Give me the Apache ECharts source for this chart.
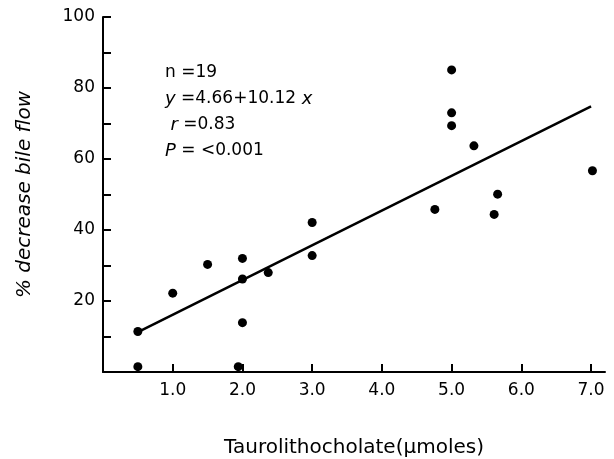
<!DOCTYPE html>
<html>
<head>
<meta charset="utf-8">
<script src="https://cdn.jsdelivr.net/npm/echarts@6/dist/echarts.min.js"></script>
<style>
  html, body { margin: 0; padding: 0; background: #fff; }
  #chart { width: 614px; height: 459px; }
</style>
</head>
<body>
<div id="chart"></div>
<script>
// taurolithocholate dose (umoles) vs % decrease in bile flow
const doseX = [0.5, 0.5, 1.0, 1.5, 1.94, 2.0, 2.0, 2.0, 2.37, 3.0, 3.0, 4.76, 5.0, 5.0, 5.0, 5.32, 5.61, 5.66, 7.02];
const decreaseY = [11.4, 1.5, 22.2, 30.3, 1.5, 32.0, 26.2, 13.9, 28.0, 32.8, 42.1, 45.8, 85.1, 73.0, 69.4, 63.7, 44.4, 50.1, 56.7];
// regression line ends as drawn
const fitX = [0.5, 7.0];
const fitY = [11.2, 74.8];
const yLabels = [20, 40, 60, 80, 100];

const font = 'DejaVu Sans';
const chart = echarts.init(document.getElementById('chart'));

chart.setOption({
  backgroundColor: '#fff',
  animation: false,
  grid: { left: 103, right: 9, top: 17, bottom: 87, outerBoundsMode: 'none' },
  xAxis: {
    type: 'value',
    min: 0,
    max: 7.2,
    interval: 1,
    splitLine: { show: false },
    axisLine: { lineStyle: { color: '#000', width: 2 } },
    axisTick: {
      inside: true,
      length: 8,
      lineStyle: { color: '#000', width: 2 },
    },
    axisLabel: {
      color: '#000',
      fontFamily: font,
      fontSize: 17,
      margin: 10,
      showMaxLabel: false,
      formatter: (v) => (v === 0 || Math.abs(v - Math.round(v)) > 1e-6 ? '' : v.toFixed(1)),
    },
    name: 'Taurolithocholate(μmoles)',
    nameLocation: 'middle',
    nameGap: 66,
    nameTextStyle: { color: '#000', fontFamily: font, fontSize: 20 },
  },
  yAxis: {
    type: 'value',
    min: 0,
    max: 100,
    interval: 10,
    splitLine: { show: false },
    axisLine: { lineStyle: { color: '#000', width: 2 } },
    axisTick: {
      inside: true,
      length: 8,
      lineStyle: { color: '#000', width: 2 },
    },
    axisLabel: {
      color: '#000',
      fontFamily: font,
      fontSize: 17,
      margin: 8,
      formatter: (v) => (yLabels.includes(v) ? String(v) : ''),
    },
    name: '% decrease bile flow',
    nameLocation: 'middle',
    nameGap: 68,
    nameTextStyle: { color: '#000', fontFamily: font, fontSize: 20, fontStyle: 'italic' },
  },
  graphic: [{
    type: 'text',
    left: 165,
    top: 60,
    style: {
      text: '{n|n =19}\n{i|y} {n|=4.66+10.12}{i| x}\n {i|r} {n|=0.83}\n{i|P} {n|= <0.001}',
      fill: '#000',
      font: '17px ' + font,
      lineHeight: 26,
      rich: {
        n: { fontFamily: font, fontSize: 17, lineHeight: 26, fill: '#000' },
        i: { fontFamily: font, fontSize: 18, fontStyle: 'italic', lineHeight: 26, fill: '#000' },
      },
    },
  }],
  series: [
    {
      type: 'scatter',
      data: doseX.map((x, i) => [x, decreaseY[i]]),
      symbol: 'circle',
      symbolSize: 9,
      itemStyle: { color: '#000', opacity: 1 },
    },
    {
      type: 'line',
      data: fitX.map((x, i) => [x, fitY[i]]),
      symbol: 'none',
      lineStyle: { color: '#000', width: 2.5 },
    },
  ],
});
</script>
</body>
</html>
